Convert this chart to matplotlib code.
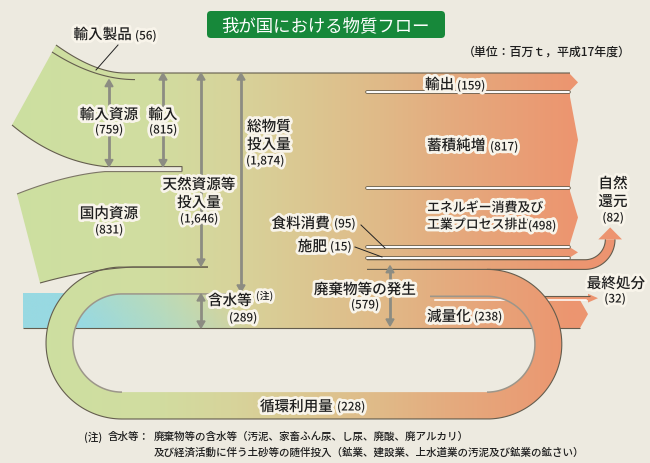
import numpy as np
import matplotlib
matplotlib.use("Agg")
import matplotlib.pyplot as plt
from matplotlib.patches import Polygon, FancyBboxPatch
from matplotlib.colors import LinearSegmentedColormap, to_rgb
import matplotlib.patheffects as pe

plt.rcParams['font.family'] = ['Noto Sans CJK JP', 'DejaVu Sans']

# ---------------- data (百万t, 平成17年度) ----------------
input_labels = ['輸入製品', '輸入資源', '輸入', '国内資源', '天然資源等投入量',
                '循環利用量', '総物質投入量', '含水等']
input_values = [56, 759, 815, 831, 1646, 228, 1874, 289]
output_labels = ['輸出', '蓄積純増', 'エネルギー消費及び工業プロセス排出',
                 '食料消費', '施肥', '廃棄物等の発生']
output_values = [159, 817, 498, 95, 15, 579]
waste_labels = ['自然還元', '循環利用量', '最終処分', '減量化']
waste_values = [82, 228, 32, 238]

# ---------------- style ----------------
BG = '#EDEAE0'
EDGE = '#645D4E'
INNER = '#9C968A'
ARROW = '#8C8C82'
TXT = '#1E1E1E'
BLUE = '#98D9E2'
GLOW = [pe.withStroke(linewidth=4, foreground='#F8F4EA')]
grad_stops = [(0, '#CCE0A1'), (150, '#D1DDA0'), (230, '#D7D49B'), (300, '#DBC892'),
              (380, '#E0BA88'), (460, '#E5A97D'), (570, '#EC9670'), (650, '#EE9270')]
FW = 'medium'

fig = plt.figure(figsize=(6.5, 4.64), dpi=100)
fig.patch.set_facecolor(BG)
ax = fig.add_axes([0, 0, 1, 1])
ax.set_facecolor(BG)
ax.axis('off')

# scale: value -> pixel thickness
Y0, YB = 74.0, 329.0
total = sum(output_values)
k = (YB - Y0) / total

imp_prod, imp_res, imp_tot, dom, nat, recyc, tmi, water = input_values
y_prod = Y0 + imp_prod * k
y_imp = Y0 + imp_tot * k
y_nat = Y0 + nat * k
y_tmi = y_nat + recyc * k
y_bot = y_tmi + water * k
y_out = Y0 + np.concatenate([[0], np.cumsum(output_values)]) * k
y_w0 = y_out[5]
y_w = y_w0 + np.concatenate([[0], np.cumsum(waste_values)]) * k  # 自然還元|循環|最終|減量化

# gradient image
cm = LinearSegmentedColormap.from_list('g', [(p / 650, c) for p, c in grad_stops])
gimg = cm(np.linspace(0, 1, 651))[None, :, :]


def qbez(p0, p1, p2, n=40):
    t = np.linspace(0, 1, n)[:, None]
    p0, p1, p2 = map(np.array, (p0, p1, p2))
    return ((1 - t) ** 2 * p0 + 2 * (1 - t) * t * p1 + t ** 2 * p2)


def arc(cx, cy, r, t0, t1, n=80):
    t = np.radians(np.linspace(t0, t1, n))
    return np.column_stack([cx + r * np.cos(t), cy + r * np.sin(t)])


def grad_fill(verts, z=2):
    patch = Polygon(np.asarray(verts), closed=True, facecolor='none', edgecolor='none')
    ax.add_patch(patch)
    im = ax.imshow(gimg, extent=(0, 650, 464, 0), aspect='auto',
                   interpolation='bilinear', zorder=z)
    im.set_clip_path(patch)


def line(pts, color=EDGE, lw=0.8, z=5):
    pts = np.asarray(pts)
    ax.plot(pts[:, 0], pts[:, 1], color=color, lw=lw, zorder=z, solid_capstyle='butt')


def divider(x0, x1, y, z=6, w=2.6):
    ax.plot([x0, x1], [y, y], color=EDGE, lw=w, zorder=z, solid_capstyle='round')
    ax.plot([x0, x1], [y, y], color='white', lw=w - 1.2, zorder=z, solid_capstyle='round')


# ---------------- flows ----------------
SL = 2.5  # half slit
imp_poly = np.vstack([qbez((56, 46), (95, Y0), (125, Y0)),
                      [(190, Y0), (190, y_imp - SL)],
                      qbez((105, y_imp - SL), (55, y_imp - 8), (12, 126))])
grad_fill(imp_poly)
dom_poly = np.vstack([qbez((17, 195), (65, 176), (105, y_imp + SL)),
                      [(190, y_imp + SL), (190, y_nat)],
                      qbez((133, y_nat), (90, y_nat + 2), (40, 284))])
grad_fill(dom_poly)
main_poly = [(182, Y0), (570, Y0), (570, y_w[1]), (430, y_w[1]), (430, y_bot), (182, y_bot)]
grad_fill(main_poly)
# output chevrons
for i in range(4):
    grad_fill([(569, y_out[i]), (578, (y_out[i] + y_out[i + 1]) / 2), (569, y_out[i + 1])])
# waste bands: 最終処分, 減量化
grad_fill([(425, y_w[2]), (588, y_w[2]), (588, y_w[2] - 2.5), (598, (y_w[2] + y_w[3]) / 2),
           (588, y_w[3] + 2.5), (588, y_w[3]), (425, y_w[3])])
grad_fill([(425, y_w[3]), (580, y_w[3]), (588, (y_w[3] + y_w[4]) / 2), (580, y_w[4]), (425, y_w[4])])
# 自然還元 curved arrow
R = 30
th = y_w[1] - y_w[0]
cxn, cyn = 585, y_w[1] - R
nat_poly = np.vstack([[(565, y_w[1])], arc(cxn, cyn, R, 90, 0),
                      arc(cxn, cyn, R - th, 0, 90), [(565, y_w[0])]])
grad_fill(nat_poly, z=2.5)
hx = cxn + R - th / 2
grad_fill([(hx - th / 2 - 7, cyn), (hx, cyn - 12), (hx + th / 2 + 7, cyn)], z=2.5)
line(np.vstack([[(367, y_w[1])], arc(cxn, cyn, R, 90, 0)]), z=5)
line(np.vstack([[(367, y_w[0])], arc(cxn, cyn, R - th, 90, 0)]), z=5)

# blue (含水等) band, fading into the flow
BX0, BX1 = 23, 250
grad_fill([(BX0, y_tmi), (BX1, y_tmi), (BX1, y_bot), (BX0, y_bot)], z=2)
xs = np.linspace(BX0, BX1, 228)
ys = np.linspace(y_tmi, y_bot, 40)
XX, YY = np.meshgrid(xs, ys)
alpha = np.clip(1 - (XX - 85 + (y_bot - YY) * 0.9) / 170, 0, 1)
bimg = np.zeros(XX.shape + (4,))
bimg[..., :3] = to_rgb(BLUE)
bimg[..., 3] = alpha
ax.imshow(bimg, extent=(BX0, BX1, y_bot, y_tmi), aspect='auto', interpolation='bilinear', zorder=3)

# recycling ring
OB = 420.0
IB = OB - recyc * k
cxL, cxR = 122, 487
rLo, rLi = (OB - y_nat) / 2, (IB - y_tmi) / 2
cyL = (OB + y_nat) / 2
rRo, rRi = (OB - y_w[1]) / 2, (IB - y_w[2]) / 2
cyR = (OB + y_w[1]) / 2
outer = np.vstack([[(245, y_nat)], arc(cxL, cyL, rLo, 270, 90), arc(cxR, cyR, rRo, 90, -90),
                   [(430, y_w[1])]])
inner = np.vstack([[(430, y_w[2])], arc(cxR, cyR, rRi, -90, 90), arc(cxL, cyL, rLi, 90, 270),
                   [(245, y_tmi)]])
grad_fill(np.vstack([outer, inner]), z=4)
line(np.vstack([[(208, y_nat)], arc(cxL, cyL, rLo, 270, 90), arc(cxR, cyR, rRo, 90, -90)]), z=5)
line(np.vstack([arc(cxR, cyR, rRi, 90, -90), [(430, y_w[2])]]), color=INNER, lw=1.1, z=5)
line(np.vstack([arc(cxL, cyL, rLi, 90, 270), [(245, y_tmi)]]), color=INNER, lw=1.1, z=5)

# ---------------- edges ----------------
line(np.vstack([qbez((56, 46), (95, Y0), (125, Y0)), [(570, Y0)]]))
line(qbez((52, 53), (95, y_prod), (135, y_prod)))
line(np.vstack([qbez((12, 126), (55, y_imp - 8), (105, y_imp - SL)), [(182, y_imp - SL)],
                [(182, y_imp + SL)]]))
line(np.vstack([qbez((17, 195), (65, 176), (105, y_imp + SL)), [(182, y_imp + SL)]]), color='#7C7566')
line(np.vstack([qbez((40, 284), (90, y_nat + 2), (133, y_nat)), [(208, y_nat)]]))
line([(23, y_bot), (580, y_bot)], z=3.5)
line([(430, y_w[2]), (590, y_w[2])], z=3.5)
for y in y_out[1:5]:
    divider(367, 569, y)
ax.plot([435, 586], [y_w[3], y_w[3]], color='white', lw=1.1, zorder=3.5)

# ---------------- double arrows ----------------
def darrow(x, y1, y2, hl=7, hw=4):
    ax.plot([x, x], [y1 + hl - 1, y2 - hl + 1], color=ARROW, lw=2.0, zorder=7)
    ax.add_patch(Polygon([(x, y1), (x - hw, y1 + hl), (x + hw, y1 + hl)], color=ARROW, zorder=7))
    ax.add_patch(Polygon([(x, y2), (x - hw, y2 - hl), (x + hw, y2 - hl)], color=ARROW, zorder=7))


darrow(109, y_prod, y_imp - SL)
darrow(163, Y0, y_imp - SL)
darrow(201, Y0, y_nat - 1)
darrow(241, Y0, y_tmi - 2)
darrow(201, y_tmi, y_bot)
darrow(390, y_w0 + 6, y_bot - 2)

# ---------------- text ----------------
def T(x, y, s, size=10.5, ha='center', glow=True, color=TXT, z=10, weight=FW):
    ax.text(x, y, s, fontsize=size, ha=ha, va='center', color=color, zorder=z,
            fontweight=weight, path_effects=GLOW if glow else None)


def num(v):
    return f'({v:,})'


NS = 8.4
T(132, 36, input_labels[0], ha='right'); T(135, 37, num(imp_prod), NS, 'left')
T(109, 116, input_labels[1]); T(109, 131, num(imp_res), NS)
T(163, 116, input_labels[2]); T(163, 131, num(imp_tot), NS)
T(247, 128, input_labels[6][:3], ha='left'); T(247, 146, input_labels[6][3:], ha='left')
T(246, 162, num(tmi), NS, 'left')
T(199, 186, input_labels[4][:5]); T(199, 204, input_labels[4][5:]); T(199, 220, num(nat), NS)
T(109, 215, input_labels[3]); T(109, 231, num(dom), NS)

T(425, 86, output_labels[0], ha='left'); T(457, 87, num(output_values[0]), NS, 'left')
T(427, 147, output_labels[1], ha='left'); T(490, 148, num(output_values[1]), NS, 'left')
T(427, 209, output_labels[2][:9], 9.3, 'left'); T(427, 226, output_labels[2][9:], 9.3, 'left')
T(528, 227, num(output_values[2]), NS, 'left')
T(330, 225, output_labels[3], ha='right'); T(334, 225, num(output_values[3]), NS, 'left')
T(327, 248, output_labels[4], ha='right'); T(330, 248, num(output_values[4]), NS, 'left')
T(365, 291, output_labels[5]); T(365, 306, num(output_values[5]), NS)

T(613, 185, waste_labels[0][:2]); T(613, 203, waste_labels[0][2:]); T(613, 219, num(waste_values[0]), NS)
T(616, 285, waste_labels[2]); T(615, 300, num(waste_values[2]), NS)
T(427, 318, waste_labels[3], ha='left'); T(474, 318, num(waste_values[3]), NS, 'left')
T(333, 408, waste_labels[1], ha='right'); T(337, 408, num(waste_values[1]), NS, 'left')

T(208, 302, input_labels[7], ha='left'); T(256, 297, '(注)', 7.2, 'left')
T(243, 319, num(water), NS)

# leader lines
for (xa, ya, xb, yb) in [(118, 46, 96, 71), (361, 226, 385, 249), (355, 248, 382, 258)]:
    ax.plot([xa, xb], [ya, yb], color='#222222', lw=0.7, zorder=9)

# title
ax.add_patch(FancyBboxPatch((207, 12), 238, 27, boxstyle='round,pad=0,rounding_size=4',
                            fc='#17883A', ec='none', zorder=8))
T(326, 26, '我が国における物質フロー', 12.5, glow=False, color='white', weight='normal')
T(631, 52, '（単位：百万ｔ，平成17年度）', 8.6, 'right', glow=False)

# footnote
T(84, 437, '(注)', 7.6, 'left', glow=False)
T(108, 437, '含水等：', 7.6, 'left', glow=False)
T(154, 437, '廃棄物等の含水等（汚泥、家畜ふん尿、し尿、廃酸、廃アルカリ）', 7.6, 'left', glow=False)
T(154, 452, '及び経済活動に伴う土砂等の随伴投入（鉱業、建設業、上水道業の汚泥及び鉱業の鉱さい）',
  7.6, 'left', glow=False)

ax.set_xlim(0, 650)
ax.set_ylim(464, 0)
fig.savefig('out.png', dpi=100, facecolor=BG)
